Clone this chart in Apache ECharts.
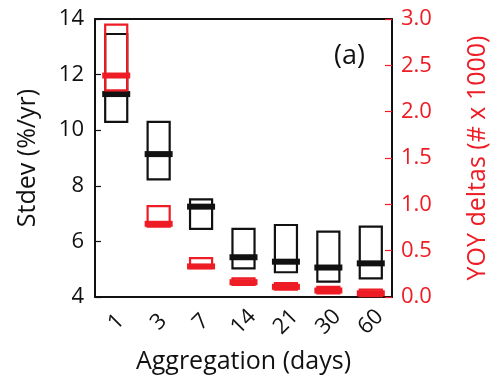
<!DOCTYPE html>
<html>
<head>
<meta charset="utf-8">
<script src="https://cdn.jsdelivr.net/npm/echarts@6/dist/echarts.min.js"></script>
<style>
  html, body {margin: 0; padding: 0; background: #fff;}
  #main {width: 498px; height: 385px;}
</style>
</head>
<body>
<div id="main"></div>
<script>
const categories = ['1', '3', '7', '14', '21', '30', '60'];
// black boxes, left axis (Stdev %/yr)
const stdevQ1 = [10.30, 8.23, 6.45, 5.03, 4.89, 4.55, 4.67];
const stdevMedian = [11.30, 9.14, 7.25, 5.43, 5.27, 5.06, 5.21];
const stdevQ3 = [13.46, 10.30, 7.51, 6.45, 6.59, 6.35, 6.53];
// red boxes, right axis (YOY deltas, # x 1000)
const yoyQ1 = [2.23, 0.76, 0.31, 0.13, 0.08, 0.04, 0.01];
const yoyMedian = [2.39, 0.79, 0.33, 0.16, 0.11, 0.07, 0.04];
const yoyQ3 = [2.94, 0.98, 0.42, 0.20, 0.15, 0.11, 0.08];

const RED = '#ee1c25';
const FONT = 'Open Sans';

const boxRenderer = (color) => (params, api) => {
  const i = api.value(0);
  const lo = api.coord([i, api.value(1)]);
  const md = api.coord([i, api.value(2)]);
  const hi = api.coord([i, api.value(3)]);
  const band = api.size([1, 0])[0];
  const bw = band * 0.52;
  const mw = band * 0.66;
  return {
    type: 'group',
    children: [
      {
        type: 'rect',
        shape: {x: lo[0] - bw / 2, y: hi[1], width: bw, height: lo[1] - hi[1]},
        style: {fill: 'none', stroke: color, lineWidth: 2.2}
      },
      {
        type: 'line',
        shape: {x1: md[0] - mw / 2, y1: md[1], x2: md[0] + mw / 2, y2: md[1]},
        style: {stroke: color, lineWidth: 6}
      }
    ]
  };
};

const chart = echarts.init(document.getElementById('main'));
chart.setOption({
  animation: false,
  grid: {left: 95, right: 105, top: 19, bottom: 88},
  textStyle: {fontFamily: FONT},
  graphic: [{
    type: 'text', left: 334, top: 43,
    style: {text: '(a)', font: '27px "Open Sans"', fill: '#111'}
  }],
  xAxis: [
    {
      type: 'category', data: categories, boundaryGap: true,
      name: 'Aggregation (days)', nameLocation: 'middle', nameGap: 52,
      nameTextStyle: {fontSize: 25, color: '#111', fontFamily: FONT},
      axisLine: {lineStyle: {color: '#111', width: 2}},
      axisTick: {alignWithLabel: true, inside: true, length: 6, lineStyle: {color: '#111', width: 1.2}},
      axisLabel: {rotate: 45, align: 'center', verticalAlign: 'middle', margin: 25, fontSize: 22, color: '#111', fontFamily: FONT}
    },
    {
      type: 'category', data: categories, boundaryGap: true, position: 'top',
      axisLine: {lineStyle: {color: '#111', width: 2}},
      axisTick: {alignWithLabel: true, inside: true, length: 6, lineStyle: {color: '#111', width: 1.2}},
      axisLabel: {show: false}
    }
  ],
  yAxis: [
    {
      type: 'value', min: 4, max: 14, interval: 2, position: 'left',
      name: 'Stdev (%/yr)', nameLocation: 'middle', nameGap: 55, nameRotate: 90,
      nameTextStyle: {fontSize: 25, color: '#111', fontFamily: FONT},
      axisLine: {show: true, lineStyle: {color: '#111', width: 2}},
      axisTick: {show: true, inside: true, length: 6, lineStyle: {color: '#111', width: 1.2}},
      axisLabel: {fontSize: 22, color: '#111', margin: 11, fontFamily: FONT},
      splitLine: {show: false}
    },
    {
      type: 'value', min: 0, max: 3, interval: 0.5, position: 'right',
      name: 'YOY deltas (# x 1000)', nameLocation: 'middle', nameGap: 73, nameRotate: 90,
      nameTextStyle: {fontSize: 25, color: RED, fontFamily: FONT},
      axisLine: {show: true, lineStyle: {color: '#111', width: 2}},
      axisTick: {show: true, inside: true, length: 7, lineStyle: {color: RED, width: 1.2}},
      axisLabel: {fontSize: 22, color: RED, margin: 9, fontFamily: FONT, formatter: v => v.toFixed(1)},
      splitLine: {show: false}
    }
  ],
  series: [
    {
      type: 'custom', xAxisIndex: 0, yAxisIndex: 0,
      renderItem: boxRenderer('#111'),
      data: categories.map((c, i) => [i, stdevQ1[i], stdevMedian[i], stdevQ3[i]]),
      z: 2
    },
    {
      type: 'custom', xAxisIndex: 0, yAxisIndex: 1,
      renderItem: boxRenderer(RED),
      data: categories.map((c, i) => [i, yoyQ1[i], yoyMedian[i], yoyQ3[i]]),
      z: 3
    }
  ]
});
</script>
</body>
</html>
